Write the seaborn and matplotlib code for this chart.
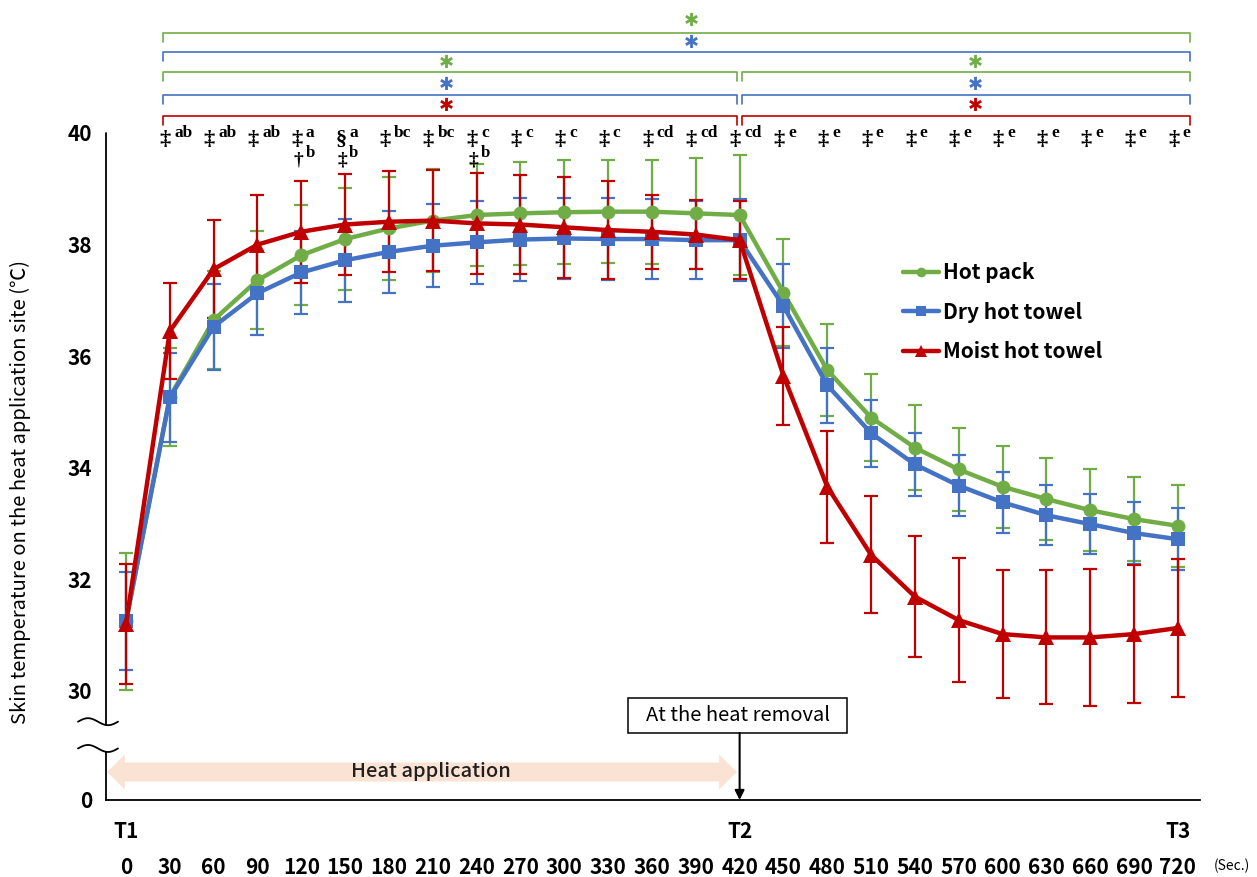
import matplotlib
matplotlib.use("Agg")
import matplotlib.pyplot as plt
import seaborn as sns
import numpy as np
import pandas as pd
from matplotlib.patches import Polygon, Rectangle

# ---------------- data ----------------
times = [0, 30, 60, 90, 120, 150, 180, 210, 240, 270, 300, 330, 360, 390,
         420, 450, 480, 510, 540, 570, 600, 630, 660, 690, 720]
groups = ["Hot pack", "Dry hot towel", "Moist hot towel"]

hot_mean = [31.25, 35.27, 36.65, 37.36, 37.81, 38.10, 38.29, 38.43, 38.53, 38.56,
            38.58, 38.59, 38.59, 38.56, 38.53, 37.14, 35.75, 34.90, 34.36, 33.97,
            33.66, 33.44, 33.24, 33.08, 32.96]
hot_sd = [1.23, 0.88, 0.88, 0.88, 0.90, 0.92, 0.93, 0.92, 0.92, 0.92,
          0.93, 0.92, 0.93, 1.00, 1.07, 0.96, 0.83, 0.78, 0.76, 0.74,
          0.73, 0.73, 0.74, 0.75, 0.73]
dry_mean = [31.25, 35.26, 36.53, 37.13, 37.50, 37.72, 37.87, 37.98, 38.04, 38.09,
            38.11, 38.10, 38.10, 38.08, 38.08, 36.90, 35.48, 34.62, 34.06, 33.68,
            33.38, 33.15, 32.99, 32.83, 32.72]
dry_sd = [0.88, 0.79, 0.77, 0.75, 0.75, 0.74, 0.74, 0.74, 0.75, 0.74,
          0.73, 0.73, 0.72, 0.70, 0.73, 0.76, 0.67, 0.60, 0.57, 0.55,
          0.55, 0.54, 0.54, 0.55, 0.56]
moist_mean = [31.20, 36.45, 37.56, 38.00, 38.23, 38.36, 38.41, 38.43, 38.38, 38.36,
              38.31, 38.26, 38.23, 38.18, 38.08, 35.65, 33.66, 32.44, 31.69, 31.27,
              31.02, 30.96, 30.96, 31.02, 31.13]
moist_sd = [1.07, 0.86, 0.88, 0.89, 0.91, 0.91, 0.91, 0.91, 0.90, 0.89,
            0.91, 0.88, 0.66, 0.62, 0.70, 0.88, 1.00, 1.05, 1.08, 1.11,
            1.15, 1.20, 1.22, 1.24, 1.24]

ytick_values = [30, 32, 34, 36, 38, 40]
phase_labels = ["T1", "T2", "T3"]
phase_times = [0, 420, 720]

mark_times = times[1:]
mark_syms = ["‡", "‡", "‡", "‡", "§"] + ["‡"] * 19
mark_sups = ["ab", "ab", "ab", "a", "a", "bc", "bc", "c", "c", "c", "c",
             "cd", "cd", "cd"] + ["e"] * 10
mark2_times = [120, 150, 240]
mark2_syms = ["†", "‡", "‡"]
mark2_sups = ["b", "b", "b"]

colors = {"Hot pack": "#70AD47", "Dry hot towel": "#4472C4", "Moist hot towel": "#C00000"}
markers = {"Hot pack": "o", "Dry hot towel": "s", "Moist hot towel": "^"}

means = {"Hot pack": hot_mean, "Dry hot towel": dry_mean, "Moist hot towel": moist_mean}
sds = {"Hot pack": hot_sd, "Dry hot towel": dry_sd, "Moist hot towel": moist_sd}

df = pd.concat([pd.DataFrame({"time": times, "temp": means[g], "sd": sds[g], "group": g})
                for g in groups], ignore_index=True)

# ---------------- style ----------------
sns.set_theme(style="white")
plt.rcParams["font.family"] = ["Noto Sans CJK JP", "DejaVu Sans"]

W, H = 1257, 877
fig = plt.figure(figsize=(W / 100, H / 100), dpi=100)
ax = fig.add_axes([106 / W, 77 / H, 1094 / W, 667 / H])

PX = 30 / 43.83      # data seconds per pixel
PY = 1 / 55.8        # degC per pixel
x_lo, x_hi = -20 * PX, 1074 * PX
y_lo, y_hi = 40 - 667 * PY, 40.0
ax.set_xlim(x_lo, x_hi)
ax.set_ylim(y_lo, y_hi)

# error bars
for g in groups:
    sub = df[df.group == g]
    ax.errorbar(sub["time"], sub["temp"], yerr=sub["sd"], fmt="none",
                ecolor=colors[g], elinewidth=1.6, capsize=5, capthick=1.6, zorder=2)

sns.lineplot(data=df, x="time", y="temp", hue="group", style="group",
             hue_order=groups, style_order=groups, palette=colors, markers=markers,
             dashes=False, linewidth=3.2, markersize=10, markeredgewidth=0,
             errorbar=None, ax=ax, zorder=3)
for ln in ax.lines:
    if ln.get_marker() == "^":
        ln.set_markersize(12)
ax.set_xlabel("")
ax.set_ylabel("")

# spines
for s in ["top", "right", "left"]:
    ax.spines[s].set_visible(False)
ax.spines["bottom"].set_color("black")
ax.spines["bottom"].set_linewidth(1.3)

ylt = ax.get_yaxis_transform()  # x axes, y data
v1, v2 = 29.45, 28.97
amp = 3.5 * PY
ax.plot([0, 0], [40, v1 - amp * 0.95], color="black", lw=1.3, transform=ylt, clip_on=False)
ax.plot([0, 0], [v2 - amp * 0.95, y_lo], color="black", lw=1.3, transform=ylt, clip_on=False)
tt = np.linspace(0, 1, 60)
for v0 in (v1, v2):
    ax.plot((78 + 40 * tt - 106) / 1094, v0 + amp * np.sin(2 * np.pi * tt),
            color="black", lw=1.3, transform=ylt, clip_on=False)

# ticks
ax.set_yticks([y_lo] + ytick_values)
ax.set_yticklabels(["0"] + [str(v) for v in ytick_values])
ax.set_xticks(times)
ax.set_xticklabels([str(t) for t in times])
ax.tick_params(axis="y", length=0, pad=10, labelsize=15)
ax.tick_params(axis="x", length=0, pad=41, labelsize=15)
for lab in ax.get_yticklabels() + ax.get_xticklabels():
    lab.set_fontweight("bold")
    lab.set_color("black")

xt = ax.get_xaxis_transform()
for lab, t in zip(phase_labels, phase_times):
    ax.text(t, -32 / 667, lab, transform=xt, ha="center", va="center",
            fontsize=15, fontweight="bold", color="black")
fig.text(1232 / W, 1 - 866 / H, "(Sec.)", ha="center", va="center", fontsize=10, color="black")

fig.text(20 / W, 1 - 492 / H, "Skin temperature on the heat application site (℃)",
         rotation=90, ha="center", va="center", fontsize=14.5, color="black")

# legend
handles, labels = ax.get_legend_handles_labels()
leg = ax.legend(handles, labels, loc="upper left", bbox_to_anchor=(903 / W, 1 - 262 / H),
                bbox_transform=fig.transFigure, frameon=False,
                prop={"weight": "bold", "size": 15}, handlelength=1.75,
                handletextpad=0.15, labelspacing=0.9, borderpad=0, borderaxespad=0,
                markerscale=0.7)
for txt in leg.get_texts():
    txt.set_color("black")

# heat application arrow
yc = 40 - (772 - 133) * PY
bh, hh, hl = 9.5 * PY, 17.5 * PY, 18 * PX
xl, xr = -19 * PX, 611 * PX
arrow = Polygon([(xl, yc), (xl + hl, yc + hh), (xl + hl, yc + bh), (xr - hl, yc + bh),
                 (xr - hl, yc + hh), (xr, yc), (xr - hl, yc - hh), (xr - hl, yc - bh),
                 (xl + hl, yc - bh), (xl + hl, yc - hh)], closed=True,
                facecolor="#FBE3D4", edgecolor="none", zorder=1, clip_on=False)
ax.add_patch(arrow)
ax.text(305 * PX, yc, "Heat application", ha="center", va="center", fontsize=14.5,
        fontweight="medium", color="#202020", zorder=2)

# heat removal box + arrow
bx0, bx1 = (628 - 126) * PX, (847 - 126) * PX
by0, by1 = 40 - (733 - 133) * PY, 40 - (698 - 133) * PY
ax.add_patch(Rectangle((bx0, by0), bx1 - bx0, by1 - by0, facecolor="white",
                       edgecolor="black", lw=1.1, zorder=4, clip_on=False))
ax.text((bx0 + bx1) / 2, (by0 + by1) / 2, "At the heat removal", ha="center", va="center",
        fontsize=14.5, color="black", zorder=5)
ax.annotate("", xy=(420, y_lo), xytext=(420, by0),
            arrowprops=dict(arrowstyle="-|>", color="black", lw=1.5, mutation_scale=14,
                            shrinkA=0, shrinkB=0), zorder=4)

# significance brackets
def py2v(p):
    return 40 - (p - 133) * PY

def px2t(p):
    return (p - 126) * PX

tip = 9 * PY
brackets = [(163, 1190, 33, "Hot pack"), (163, 1190, 52, "Dry hot towel"),
            (163, 737, 72, "Hot pack"), (163, 737, 95, "Dry hot towel"),
            (163, 737, 116, "Moist hot towel"),
            (742, 1190, 72, "Hot pack"), (742, 1190, 95, "Dry hot towel"),
            (742, 1190, 116, "Moist hot towel")]
for x0, x1, yp, g in brackets:
    y = py2v(yp)
    ax.plot([px2t(x0), px2t(x0), px2t(x1), px2t(x1)], [y - tip, y, y, y - tip],
            color=colors[g], lw=1.2, clip_on=False, zorder=5)

stars = [(691, 21, "Hot pack"), (691, 43, "Dry hot towel"),
         (446, 63, "Hot pack"), (446, 85, "Dry hot towel"), (446, 106, "Moist hot towel"),
         (975, 63, "Hot pack"), (975, 85, "Dry hot towel"), (975, 106, "Moist hot towel")]
for xp, yp, g in stars:
    ax.text(px2t(xp), py2v(yp), "✱", ha="center", va="center", fontsize=13,
            family="DejaVu Sans", color=colors[g], clip_on=False)

for t, s, sup in zip(mark_times, mark_syms, mark_sups):
    ax.text(t - 3, py2v(140), s, ha="center", va="center", fontsize=16, color="black",
            family="Liberation Serif", weight="bold")
    ax.annotate(sup, xy=(t - 3, py2v(133)), xytext=(6.5, 0), textcoords="offset points",
                ha="left", va="center", fontsize=12.5, color="black",
                family="Liberation Serif", weight="bold", annotation_clip=False)
for t, s, sup in zip(mark2_times, mark2_syms, mark2_sups):
    ax.text(t - 2, py2v(160), s, ha="center", va="center", fontsize=14, color="black",
            family="Liberation Serif", weight="bold")
    ax.annotate(sup, xy=(t - 2, py2v(153)), xytext=(5, 0), textcoords="offset points",
                ha="left", va="center", fontsize=12, color="black",
                family="Liberation Serif", weight="bold", annotation_clip=False)

fig.savefig("out.png", dpi=100)
